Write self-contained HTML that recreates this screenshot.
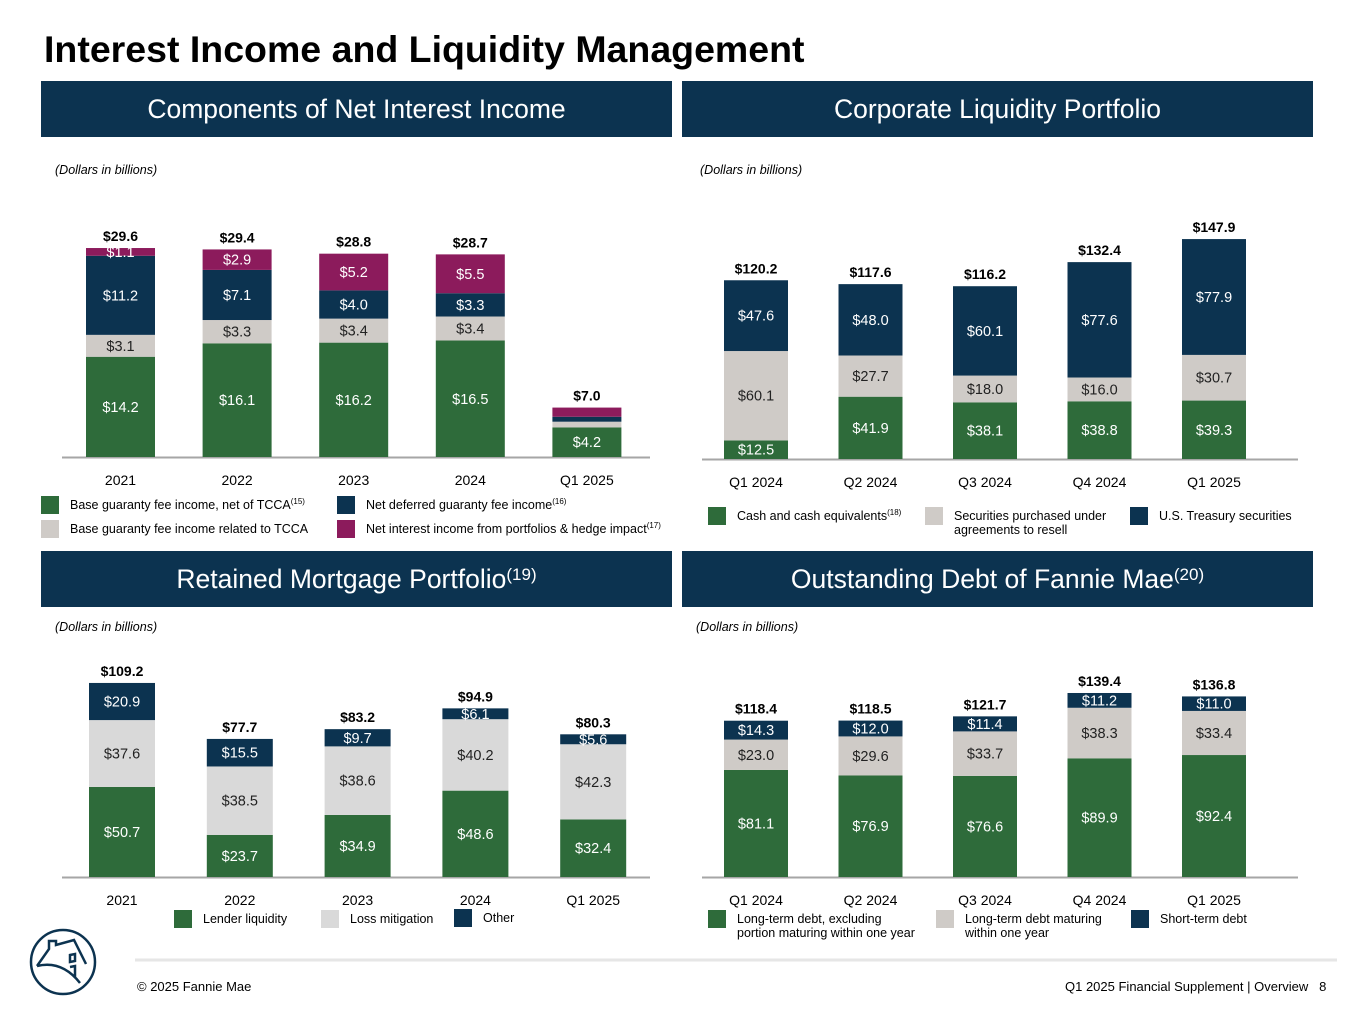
<!DOCTYPE html>
<html><head><meta charset="utf-8">
<style>
body{margin:0;width:1365px;height:1024px;background:#fff;font-family:"Liberation Sans",Arial,sans-serif;position:relative;overflow:hidden;color:#000}
.hdr{position:absolute;height:56px;background:#0c3350;color:#fff;font-size:26.5px;display:flex;align-items:center;justify-content:center}
.hdr sup{font-size:17px;position:relative;top:-4px}
.note{position:absolute;font-size:12.5px;font-style:italic}
.t{position:absolute;white-space:nowrap}
svg{position:absolute;left:0;top:0}
</style></head><body>
<div class="t" style="left:44px;top:28px;font-size:37.5px;font-weight:bold;">Interest Income and Liquidity Management</div>
<div class="hdr" style="left:41px;top:81px;width:631px">Components of Net Interest Income</div>
<div class="hdr" style="left:682px;top:81px;width:631px">Corporate Liquidity Portfolio</div>
<div class="hdr" style="left:41px;top:551px;width:631px">Retained Mortgage Portfolio<sup>(19)</sup></div>
<div class="hdr" style="left:682px;top:551px;width:631px">Outstanding Debt of Fannie Mae<sup>(20)</sup></div>
<div class="note" style="left:55px;top:163px">(Dollars in billions)</div>
<div class="note" style="left:700px;top:163px">(Dollars in billions)</div>
<div class="note" style="left:55px;top:620px">(Dollars in billions)</div>
<div class="note" style="left:696px;top:620px">(Dollars in billions)</div>

<svg id="chart" width="1365" height="1024" font-family="Liberation Sans, Arial, sans-serif"></svg>

<svg width="1365" height="1024">
<line x1="135" y1="960" x2="1337" y2="960" stroke="#e6e6e6" stroke-width="3"/>
<g fill="none" stroke="#0c3350" stroke-width="2.5">
<circle cx="63" cy="962" r="32"/>
<path d="M37 966 L49 949 L49 941 L56 941 L56 945 L74 940 L86 964 M37 966 Q62 960 80 983 M70 955 L75 954 L75 961 L70 962 Z M70 967 L75 966 L75 977"/>
</g>
</svg>
<div class="t" style="left:137px;top:979px;font-size:13px">© 2025 Fannie Mae</div>
<div class="t" style="left:1065px;top:979px;font-size:13px">Q1 2025 Financial Supplement | Overview &nbsp; 8</div>

<script>
// ---- Chart 1: Components of Net Interest Income
const c1Categories = ["2021","2022","2023","2024","Q1 2025"];
const c1BaseNet = [14.2,16.1,16.2,16.5,4.2];
const c1BaseTcca = [3.1,3.3,3.4,3.4,0.8];
const c1Deferred = [11.2,7.1,4.0,3.3,0.7];
const c1Portfolio = [1.1,2.9,5.2,5.5,1.3];
const c1Totals = ["$29.6","$29.4","$28.8","$28.7","$7.0"];
const c1ShowLabels = [true,true,true,true,false];
// ---- Chart 2: Corporate Liquidity Portfolio
const c2Categories = ["Q1 2024","Q2 2024","Q3 2024","Q4 2024","Q1 2025"];
const c2Cash = [12.5,41.9,38.1,38.8,39.3];
const c2Securities = [60.1,27.7,18.0,16.0,30.7];
const c2Treasury = [47.6,48.0,60.1,77.6,77.9];
const c2Totals = ["$120.2","$117.6","$116.2","$132.4","$147.9"];
// ---- Chart 3: Retained Mortgage Portfolio
const c3Categories = ["2021","2022","2023","2024","Q1 2025"];
const c3Lender = [50.7,23.7,34.9,48.6,32.4];
const c3Loss = [37.6,38.5,38.6,40.2,42.3];
const c3Other = [20.9,15.5,9.7,6.1,5.6];
const c3Totals = ["$109.2","$77.7","$83.2","$94.9","$80.3"];
// ---- Chart 4: Outstanding Debt
const c4Categories = ["Q1 2024","Q2 2024","Q3 2024","Q4 2024","Q1 2025"];
const c4LongTerm = [81.1,76.9,76.6,89.9,92.4];
const c4Maturing = [23.0,29.6,33.7,38.3,33.4];
const c4Short = [14.3,12.0,11.4,11.2,11.0];
const c4Totals = ["$118.4","$118.5","$121.7","$139.4","$136.8"];

const NS="http://www.w3.org/2000/svg";
const svg=document.getElementById('chart');
const GREEN="#2e6b3a",GREY="#cfcbc7",NAVY="#0c3350",MAG="#8c1b5c",LGREY="#d9d9d9";
function mk(tag,attrs,parent){const e=document.createElementNS(NS,tag);for(const k in attrs)e.setAttribute(k,attrs[k]);(parent||svg).appendChild(e);return e;}
function txt(x,y,s,size,fill,bold,parent,anchor){const e=mk('text',{x:x,y:y,'font-size':size,fill:fill,'text-anchor':anchor||'middle','font-weight':bold?'bold':'normal'},parent);e.textContent=s;return e;}

function drawChart(cfg){
  const g=mk('g',{});
  
  
  const yScale=v=>v*cfg.pxPerUnit;
  const xScale=i=>cfg.x0+i*cfg.step;
  const ax=mk('line',{x1:cfg.axisX1,x2:cfg.axisX2,y1:cfg.base+0.5,y2:cfg.base+0.5,stroke:'#a6a6a6','stroke-width':2},g);
  
  
  cfg.categories.forEach((c,i)=>{
    let y=cfg.base;const x=xScale(i);
    cfg.series.forEach((s,si)=>{
      const v=s.values[i];const h=yScale(v);
      const r=mk('rect',{x:x,y:y-h,width:cfg.bw,height:h,fill:s.color},g);
      
      
      if(si===0||!cfg.showLabels||cfg.showLabels[i]){
        const t=txt(x+cfg.bw/2,y-h/2+5,'$'+v.toFixed(1),14.5,s.labelColor,false,g);
        
        
      }
      y-=h;
    });
    const tt=txt(x+cfg.bw/2,y-7,cfg.totals[i],14,'#000',true,g);
    
    
    const cl=txt(x+cfg.bw/2,cfg.base+28,c,14,'#000',false,g);
    
    
  });
}
drawChart({name:'net-interest-income',categories:c1Categories,totals:c1Totals,showLabels:c1ShowLabels,base:457,pxPerUnit:7.06,x0:86,step:116.6,bw:69,axisX1:62,axisX2:650,
 series:[{key:'base-net',values:c1BaseNet,color:GREEN,labelColor:'#fff'},{key:'base-tcca',values:c1BaseTcca,color:GREY,labelColor:'#222'},{key:'deferred',values:c1Deferred,color:NAVY,labelColor:'#fff'},{key:'portfolio',values:c1Portfolio,color:MAG,labelColor:'#fff'}]});
drawChart({name:'liquidity-portfolio',categories:c2Categories,totals:c2Totals,base:459,pxPerUnit:1.487,x0:724,step:114.5,bw:64,axisX1:702,axisX2:1298,
 series:[{key:'cash',values:c2Cash,color:GREEN,labelColor:'#fff'},{key:'securities',values:c2Securities,color:GREY,labelColor:'#222'},{key:'treasury',values:c2Treasury,color:NAVY,labelColor:'#fff'}]});
drawChart({name:'retained-mortgage',categories:c3Categories,totals:c3Totals,base:877,pxPerUnit:1.777,x0:89,step:117.8,bw:66,axisX1:62,axisX2:650,
 series:[{key:'lender',values:c3Lender,color:GREEN,labelColor:'#fff'},{key:'loss',values:c3Loss,color:LGREY,labelColor:'#222'},{key:'other',values:c3Other,color:NAVY,labelColor:'#fff'}]});
drawChart({name:'outstanding-debt',categories:c4Categories,totals:c4Totals,base:877,pxPerUnit:1.32,x0:724,step:114.5,bw:64,axisX1:702,axisX2:1298,
 series:[{key:'long-term',values:c4LongTerm,color:GREEN,labelColor:'#fff'},{key:'maturing',values:c4Maturing,color:GREY,labelColor:'#222'},{key:'short',values:c4Short,color:NAVY,labelColor:'#fff'}]});

function legend(x,y,color,lines,sup,name){
  const g=mk('g',{});
  
  
  mk('rect',{x:x,y:y,width:18,height:18,fill:color},g);
  lines.forEach((l,i)=>{
    const t=txt(x+29,y+13+i*14,l,12.5,'#000',false,g,'start');
    if(sup&&i===0){const s=mk('tspan',{'font-size':8,dy:-5},t);s.textContent=sup;}
  });
}
legend(41,496,GREEN,["Base guaranty fee income, net of TCCA"],"(15)",'legend-base-net');
legend(41,520,GREY,["Base guaranty fee income related to TCCA"],null,'legend-base-tcca');
legend(337,496,NAVY,["Net deferred guaranty fee income"],"(16)",'legend-deferred');
legend(337,520,MAG,["Net interest income from portfolios & hedge impact"],"(17)",'legend-portfolio');
legend(708,507,GREEN,["Cash and cash equivalents"],"(18)",'legend-cash');
legend(925,507,GREY,["Securities purchased under","agreements to resell"],null,'legend-securities');
legend(1130,507,NAVY,["U.S. Treasury securities"],null,'legend-treasury');
legend(174,910,GREEN,["Lender liquidity"],null,'legend-lender');
legend(321,910,LGREY,["Loss mitigation"],null,'legend-loss');
legend(454,909,NAVY,["Other"],null,'legend-other');
legend(708,910,GREEN,["Long-term debt, excluding","portion maturing within one year"],null,'legend-long-term');
legend(936,910,GREY,["Long-term debt maturing","within one year"],null,'legend-maturing');
legend(1131,910,NAVY,["Short-term debt"],null,'legend-short');
</script>
</body></html>
